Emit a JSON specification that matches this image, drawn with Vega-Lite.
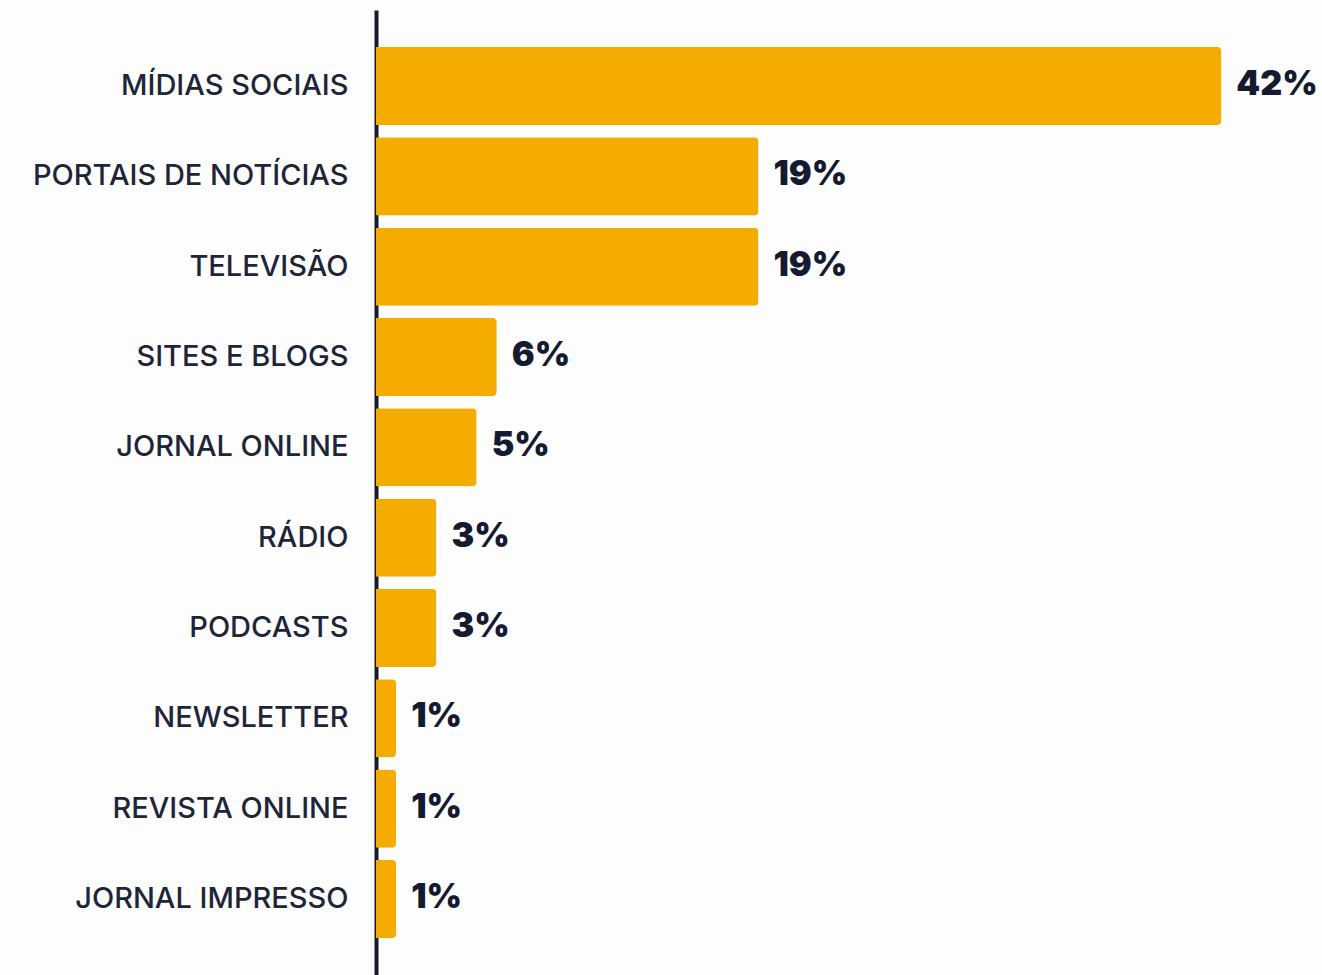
{
  "$schema": "https://vega.github.io/schema/vega-lite/v6.json",
  "autosize": "none",
  "width": 946,
  "height": 965,
  "padding": {"left": 376, "top": 10, "right": 0, "bottom": 0},
  "background": "#fdfdfd",
  "config": {"view": {"stroke": null}, "font": "Inter"},
  "data": {"values": [
    {"canal": "MÍDIAS SOCIAIS", "pct": 42, "rotulo": "42%"},
    {"canal": "PORTAIS DE NOTÍCIAS", "pct": 19, "rotulo": "19%"},
    {"canal": "TELEVISÃO", "pct": 19, "rotulo": "19%"},
    {"canal": "SITES E BLOGS", "pct": 6, "rotulo": "6%"},
    {"canal": "JORNAL ONLINE", "pct": 5, "rotulo": "5%"},
    {"canal": "RÁDIO", "pct": 3, "rotulo": "3%"},
    {"canal": "PODCASTS", "pct": 3, "rotulo": "3%"},
    {"canal": "NEWSLETTER", "pct": 1, "rotulo": "1%"},
    {"canal": "REVISTA ONLINE", "pct": 1, "rotulo": "1%"},
    {"canal": "JORNAL IMPRESSO", "pct": 1, "rotulo": "1%"}
  ]},
  "encoding": {
    "y": {"field": "canal", "type": "nominal", "sort": null,
      "scale": {"paddingInner": 0.136, "paddingOuter": 0.41},
      "axis": {"title": null, "ticks": false, "domainColor": "#161a2e", "domainWidth": 4,
        "labelFontSize": 29, "labelFont": "Inter", "labelFontWeight": 500, "labelColor": "#1e2538",
        "labelPadding": 28, "labelLimit": 0, "grid": false}},
    "x": {"field": "pct", "type": "quantitative", "scale": {"domain": [0, 47], "nice": false}, "axis": null}
  },
  "layer": [
    {"mark": {"type": "bar", "color": "#f5ac00", "cornerRadiusEnd": 4}},
    {"mark": {"type": "text", "align": "left", "baseline": "middle", "dx": 15, "dy": -1, "fontSize": 34, "fontWeight": 900, "color": "#141a30", "font": "Inter"},
     "encoding": {"text": {"field": "rotulo", "type": "nominal"}}}
  ]
}
